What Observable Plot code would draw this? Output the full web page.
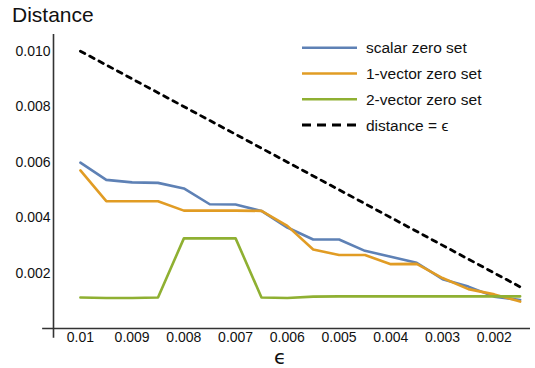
<!DOCTYPE html>
<html>
<head>
<meta charset="utf-8">
<script src="https://cdn.jsdelivr.net/npm/d3@7"></script>
<script src="https://cdn.jsdelivr.net/npm/@observablehq/plot@0.6"></script>
<style>
  body { margin: 0; background: #fff; }
  #wrap { position: relative; width: 535px; height: 368px; font-family: "Liberation Sans", Arial, sans-serif; }
  #title { position: absolute; left: 12px; top: 3px; font-size: 21px; color: #111; }
  #xlab { position: absolute; left: 274px; top: 346.6px; font-size: 20px; line-height: 20px; color: #111; font-family: "DejaVu Sans", sans-serif; }
  #legend { position: absolute; left: 0; top: 0; }
</style>
</head>
<body>
<div id="wrap">
  <div id="title">Distance</div>
  <div id="xlab">ϵ</div>
</div>
<script>
const eps = [0.01, 0.0095, 0.009, 0.0085, 0.008, 0.0075, 0.007, 0.0065, 0.006, 0.0055, 0.005, 0.0045, 0.004, 0.0035, 0.003, 0.0025, 0.002, 0.0015];
const scalarZero = [0.00598, 0.00536, 0.00527, 0.00525, 0.00505, 0.00448, 0.00447, 0.00424, 0.00364, 0.00321, 0.00321, 0.00280, 0.00259, 0.00237, 0.00178, 0.00151, 0.00115, 0.00103];
const vec1Zero   = [0.00570, 0.00459, 0.00459, 0.00459, 0.00425, 0.00425, 0.00425, 0.00424, 0.00370, 0.00285, 0.00265, 0.00265, 0.00232, 0.00233, 0.00182, 0.00142, 0.00123, 0.00097];
const vec2Zero   = [0.00112, 0.00110, 0.00110, 0.00112, 0.00325, 0.00325, 0.00325, 0.00112, 0.00110, 0.00115, 0.00116, 0.00116, 0.00116, 0.00116, 0.00116, 0.00116, 0.00116, 0.00116];
const refEps = [0.01, 0.0015];
const seriesNames = ["scalar zero set", "1-vector zero set", "2-vector zero set"];
const seriesColors = ["#5E81B5", "#E19C24", "#8FB032"];
const refName = "distance = ϵ";
const xTicks = [0.01, 0.009, 0.008, 0.007, 0.006, 0.005, 0.004, 0.003, 0.002];
const yTicks = [0.002, 0.004, 0.006, 0.008, 0.010];

const seriesValues = [scalarZero, vec1Zero, vec2Zero];
const rows = seriesValues.flatMap((vals, i) => vals.map((v, j) => ({eps: eps[j], d: v, s: seriesNames[i]})));
const refRows = refEps.map(e => ({eps: e, d: e}));

const chart = Plot.plot({
  width: 535,
  height: 368,
  marginLeft: 53,
  marginRight: 5,
  marginTop: 34,
  marginBottom: 40,
  x: {domain: [0.01052, 0.0013]},
  y: {domain: [0, 0.0106]},
  color: {domain: seriesNames, range: seriesColors},
  style: {fontFamily: "Liberation Sans, Arial, sans-serif", fontSize: "14px", background: "transparent", color: "#111"},
  marks: [
    Plot.axisY({ticks: yTicks, tickSize: 0, tickPadding: 3, tickFormat: d => d.toFixed(3), label: null}),
    Plot.axisX({ticks: xTicks, tickSize: 0, tickPadding: 4, tickFormat: d => String(+d.toFixed(3)), label: null}),
    Plot.ruleY([0], {x1: 0.01073, x2: 0.0013, stroke: "#333", strokeWidth: 1.6}),
    Plot.ruleX([0.01052], {y1: -0.00035, y2: 0.0106, stroke: "#333", strokeWidth: 1.6}),
    Plot.line(refRows, {x: "eps", y: "d", stroke: "#000", strokeWidth: 2.8, strokeDasharray: "5,5.5"}),
    Plot.line(rows, {x: "eps", y: "d", z: "s", stroke: "s", strokeWidth: 2.6, strokeLinejoin: "round"})
  ]
});
document.getElementById("wrap").prepend(chart);

// legend
const leg = d3.select("#wrap").append("svg").attr("id", "legend").attr("width", 535).attr("height", 368);
const items = seriesNames.map((n, i) => ({name: n, color: seriesColors[i], dash: null}))
  .concat([{name: refName, color: "#000", dash: "9,6"}]);
const g = leg.selectAll("g").data(items).join("g")
  .attr("transform", (d, i) => `translate(302, ${47.7 + i * 25.8})`);
g.append("line").attr("x1", 0).attr("x2", 55).attr("y1", 0).attr("y2", 0)
  .attr("stroke", d => d.color).attr("stroke-width", d => d.dash ? 3 : 2.6)
  .attr("stroke-dasharray", d => d.dash);
g.append("text").attr("x", 64).attr("y", 0).attr("dy", "0.35em")
  .attr("font-size", 15.5).attr("fill", "#111")
  .attr("font-family", "Liberation Sans, Arial, sans-serif")
  .text(d => d.name);
</script>
</body>
</html>
